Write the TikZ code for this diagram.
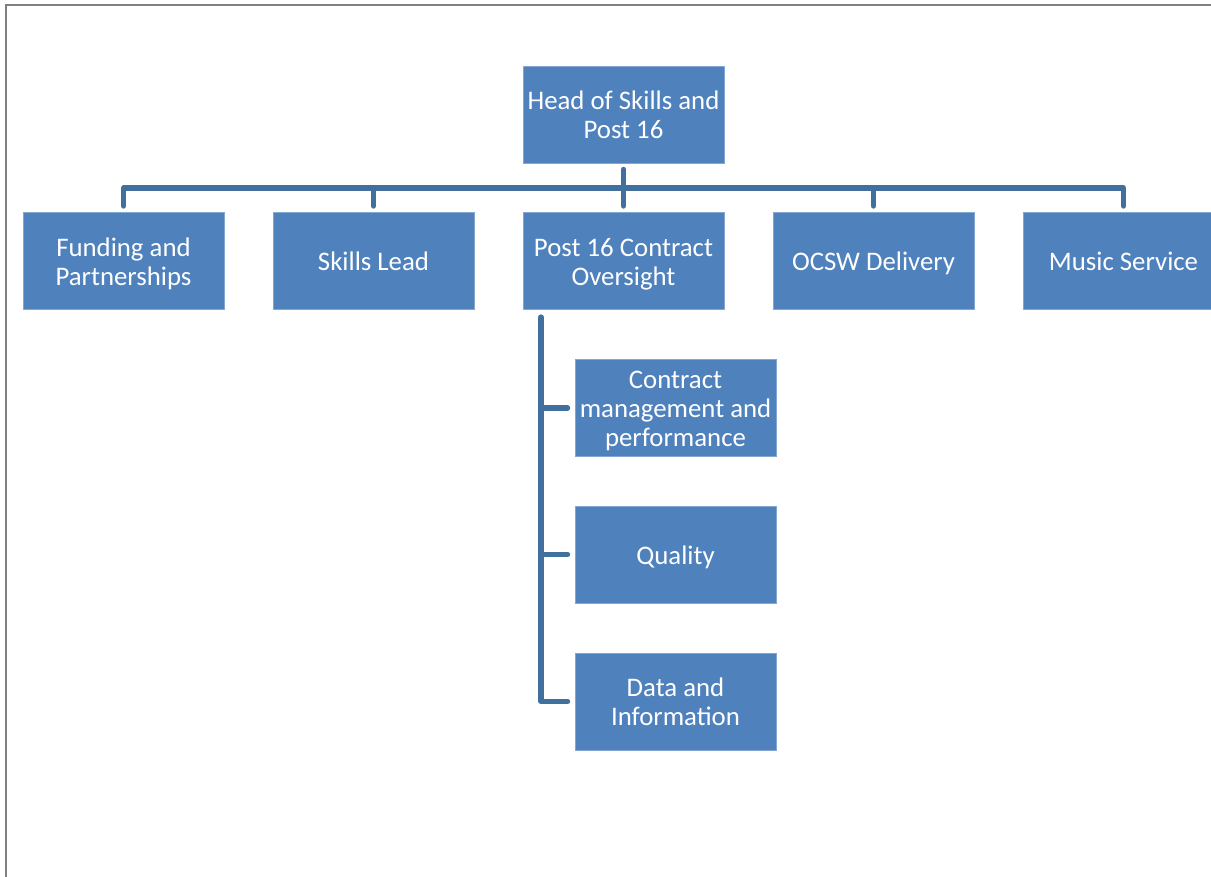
\documentclass[tikz,border=0pt]{standalone}
\usepackage{fontspec}
\setmainfont{Carlito}
\usepackage{xcolor}
\definecolor{boxblue}{HTML}{4F81BD}
\definecolor{lineblue}{HTML}{41709E}
\definecolor{framegray}{HTML}{808080}
\begin{document}
\begin{tikzpicture}[x=0.5pt, y=-0.5pt, thick]
\tikzset{orgbox/.style={fill=boxblue, draw=boxblue!70!white, line width=0.4pt, text=white, minimum width=100.5pt, minimum height=48.5pt, text width=110pt, align=flush center, inner xsep=-4.75pt, inner ysep=0.5pt, font=\fontsize{13.4}{14.5}\selectfont, execute at begin node={\rule{0pt}{13.5pt}}, execute at end node={\rule[-3.7pt]{0pt}{3.7pt}}}}
\tikzset{link/.style={draw=lineblue, line width=2.6pt, line cap=round, line join=round}}
\useasboundingbox (0,0) rectangle (1211,877);
\clip (0,0) rectangle (1211,877);
\draw[framegray, line width=1.1pt] (6,5) rectangle (1240,910);

\node[orgbox] (head) at (623.5,114.5) {Head of Skills and\\Post 16};
\node[orgbox] (fund) at (123.5,261) {Funding and\\Partnerships};
\node[orgbox] (skills) at (373.5,261) {Skills Lead};
\node[orgbox] (post) at (623.5,261) {Post 16 Contract\\Oversight};
\node[orgbox] (ocsw) at (873.5,261) {OCSW Delivery};
\node[orgbox] (music) at (1123.5,261) {Music Service};
\node[orgbox] (contract) at (675.5,408) {Contract\\management and\\performance};
\node[orgbox] (quality) at (675.5,554.5) {Quality};
\node[orgbox] (data) at (675.5,701.5) {Data and\\Information};

\coordinate (bus) at (0,188);
\coordinate (spine) at (541,317);

\draw[link] ([yshift=-3pt]head.south) to ([yshift=3pt]post.north);
\draw[link] ([yshift=3pt]fund.north) to (fund.north |- bus) to (music.north |- bus) to ([yshift=3pt]music.north);
\draw[link] (skills.north |- bus) to ([yshift=3pt]skills.north);
\draw[link] (ocsw.north |- bus) to ([yshift=3pt]ocsw.north);

\draw[link] (spine) to (spine |- data.west) to ([xshift=-3.5pt]data.west);
\draw[link] (spine |- contract.west) to ([xshift=-3.5pt]contract.west);
\draw[link] (spine |- quality.west) to ([xshift=-3.5pt]quality.west);
\end{tikzpicture}
\end{document}
